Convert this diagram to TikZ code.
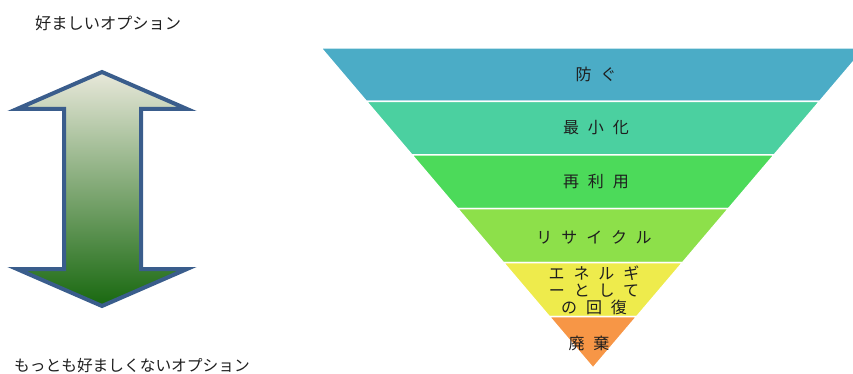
\documentclass[tikz,border=0pt]{standalone}
\usepackage{fontspec}
\usepackage{tikz}
\usetikzlibrary{calc,positioning}
\newfontfamily\jpfont{Noto Sans CJK JP}
\newfontfamily\jpwide[LetterSpace=56]{Noto Sans CJK JP}
\definecolor{WasteBlue}{HTML}{4BACC6}
\definecolor{WasteTeal}{HTML}{4BD0A0}
\definecolor{WasteGreen}{HTML}{4CDA5A}
\definecolor{WasteLime}{HTML}{8DE04A}
\definecolor{WasteYellow}{HTML}{EEEB4C}
\definecolor{WasteOrange}{HTML}{F79646}
\definecolor{ArrowEdge}{HTML}{3A5D8C}
\definecolor{ArrowTop}{HTML}{E8E8DA}
\definecolor{ArrowMid}{HTML}{A6BE7A}
\definecolor{ArrowBot}{HTML}{18680F}
\definecolor{LabelInk}{HTML}{1E1E1E}
\tikzset{
  layer/.style={draw=white,line width=1.5pt,line join=miter},
  tier/.style={font=\jpwide\fontsize{16}{17}\selectfont,text=LabelInk,
    align=center,inner sep=0pt},
  sidelabel/.style={font=\jpfont\fontsize{16.2}{18}\selectfont,text=LabelInk,
    anchor=west,inner sep=0pt},
  blockarrow/.style={draw=ArrowEdge,line width=4pt,line join=miter,
    top color=ArrowTop,middle color=ArrowMid,bottom color=ArrowBot}
}

\begin{document}
\begin{tikzpicture}[x=1pt,y=-1pt]
  \useasboundingbox (0,0) rectangle (853,374);
  \clip (0,0) rectangle (853,374);
  % inverted pyramid, apex at (593,368)
  \foreach \ya/\yb/\col in {48/101.5/WasteBlue,101.5/155/WasteTeal,
      155/208.5/WasteGreen,208.5/262.5/WasteLime,262.5/316.5/WasteYellow,
      316.5/368/WasteOrange}
    \filldraw[layer,fill=\col] ({593-(368-\ya)*0.85},\ya) -- ({593+(368-\ya)*0.85},\ya)
      -- ({593+(368-\yb)*0.85},\yb) -- ({593-(368-\yb)*0.85},\yb) -- cycle;
  \node[tier] (prevent) at (596,74) {防ぐ};
  \node[tier] (minimise) at (596,128) {最小化};
  \node[tier] (reuse) at (596,182) {再利用};
  \node[tier] (recycle) at (594,237) {リサイクル};
  \node[tier] (recover) at (594,290) {エネルギ\\ーとして\\の回復};
  \node[tier] (dispose) at (589,343) {廃棄};
  % double block arrow
  \draw[blockarrow] (102,72) -- (17,109) -- (64,109) -- (64,269) -- (17,269)
    -- (102,306) -- (187,269) -- (141,269) -- (141,109) -- (187,109) -- cycle;
  \node[sidelabel] (best) at (35,23) {好ましいオプション};
  \node[sidelabel,font=\jpfont\fontsize{15.7}{18}\selectfont] (worst) at (14,366)
    {もっとも好ましくないオプション};
\end{tikzpicture}
\end{document}
